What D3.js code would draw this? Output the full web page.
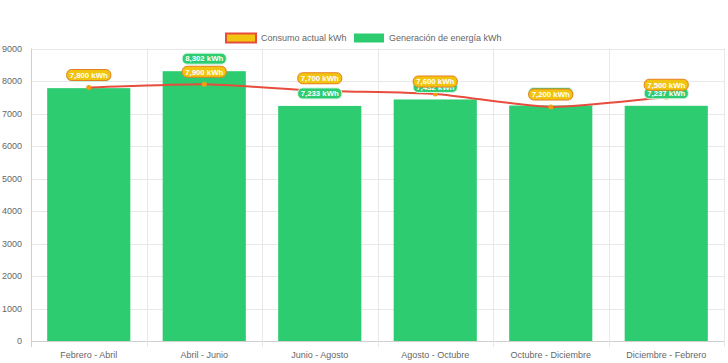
<!DOCTYPE html>
<html lang="es">
<head>
  <meta charset="UTF-8">
  <script src="https://d3js.org/d3.v7.min.js"></script>
  <title>Consumo vs Generación</title>
  <style>
    body { margin: 0; background: #fff; }
    svg { display: block; font-family: "Liberation Sans", Arial, sans-serif; }
  </style>
</head>
<body>
  <svg id="chart" width="728" height="363"></svg>
  <script>
    const categories = ['Febrero - Abril', 'Abril - Junio', 'Junio - Agosto', 'Agosto - Octubre', 'Octubre - Diciembre', 'Diciembre - Febrero'];
    const consumo = [7800, 7900, 7700, 7600, 7200, 7500];
    const generacion = [7780, 8302, 7233, 7432, 7245, 7237];
    const yTicks = [0, 1000, 2000, 3000, 4000, 5000, 6000, 7000, 8000, 9000];

    const plotLeft = 31, plotRight = 724, plotTop = 48.5, plotBottom = 341;
    const svg = d3.select('#chart');

    const x = d3.scaleBand().domain(categories).range([plotLeft, plotRight]).padding(0);
    const y = d3.scaleLinear().domain([0, 9000]).range([plotBottom, plotTop]);
    const fmt = d3.format(',');

    // grid
    svg.append('g').selectAll('line').data(yTicks).enter().append('line')
      .attr('x1', plotLeft).attr('x2', plotRight)
      .attr('y1', d => Math.round(y(d)) + 0.5).attr('y2', d => Math.round(y(d)) + 0.5)
      .attr('stroke', d => d === 0 ? '#cfcfcf' : '#e8e8e8');
    const vx = categories.map(c => x(c)).concat([plotRight]);
    svg.append('g').selectAll('line').data(vx).enter().append('line')
      .attr('x1', d => Math.round(d) + 0.5).attr('x2', d => Math.round(d) + 0.5)
      .attr('y1', plotTop).attr('y2', plotBottom + 6)
      .attr('stroke', (d, i) => i === 0 ? '#cfcfcf' : '#e8e8e8');

    // y tick labels
    svg.append('g').selectAll('text').data(yTicks).enter().append('text')
      .attr('x', 22).attr('y', d => y(d) + 3)
      .attr('text-anchor', 'end').attr('font-size', 9).attr('fill', '#666')
      .text(d => d);

    // x tick labels
    svg.append('g').selectAll('text').data(categories).enter().append('text')
      .attr('x', d => x(d) + x.bandwidth() / 2).attr('y', 358)
      .attr('text-anchor', 'middle').attr('font-size', 9).attr('fill', '#666')
      .text(d => d);

    // bars
    const bw = x.bandwidth() * 0.72;
    svg.append('g').selectAll('rect').data(generacion).enter().append('rect')
      .attr('x', (d, i) => x(categories[i]) + (x.bandwidth() - bw) / 2)
      .attr('y', d => y(d))
      .attr('width', bw)
      .attr('height', d => plotBottom - y(d))
      .attr('fill', '#2ecc71');

    // line (light spline through the points)
    const cx = i => x(categories[i]) + x.bandwidth() / 2;
    const pts = consumo.map((d, i) => [cx(i), y(d)]);
    function splinePath(p, t) {
      const path = d3.path();
      const cps = p.map((cur, i) => {
        const prev = p[i - 1] || cur, next = p[i + 1] || cur;
        const d01 = Math.hypot(cur[0] - prev[0], cur[1] - prev[1]);
        const d12 = Math.hypot(next[0] - cur[0], next[1] - cur[1]);
        const s01 = d01 / (d01 + d12 || 1), s12 = d12 / (d01 + d12 || 1);
        return {
          prev: [cur[0] - t * s01 * (next[0] - prev[0]), cur[1] - t * s01 * (next[1] - prev[1])],
          next: [cur[0] + t * s12 * (next[0] - prev[0]), cur[1] + t * s12 * (next[1] - prev[1])]
        };
      });
      path.moveTo(p[0][0], p[0][1]);
      for (let i = 1; i < p.length; i++) {
        path.bezierCurveTo(cps[i - 1].next[0], cps[i - 1].next[1], cps[i].prev[0], cps[i].prev[1], p[i][0], p[i][1]);
      }
      return path.toString();
    }
    svg.append('path')
      .attr('d', splinePath(pts, 0.2)).attr('fill', 'none')
      .attr('stroke', '#e74c3c').attr('stroke-width', 2);
    svg.append('g').selectAll('circle').data(consumo).enter().append('circle')
      .attr('cx', (d, i) => cx(i)).attr('cy', d => y(d)).attr('r', 2.5)
      .attr('fill', '#f39c12');

    // data labels
    function labels(data, fill, stroke) {
      const g = svg.append('g').selectAll('g').data(data).enter().append('g')
        .attr('transform', (d, i) => `translate(${cx(i)},${y(d) - 12.5})`);
      g.append('text')
        .attr('text-anchor', 'middle').attr('y', 2.8)
        .attr('font-size', 7.8).attr('font-weight', 'bold').attr('fill', '#fff')
        .text(d => fmt(d) + ' kWh');
      g.insert('rect', 'text')
        .attr('x', function () { return -this.parentNode.querySelector('text').getComputedTextLength() / 2 - 3; })
        .attr('width', function () { return this.parentNode.querySelector('text').getComputedTextLength() + 6; })
        .attr('y', -5.5).attr('height', 11).attr('rx', 5)
        .attr('fill', fill).attr('stroke', stroke).attr('stroke-width', 1);
    }
    labels(generacion, '#2ecc71', '#d8f5e4');
    labels(consumo, '#f1c40f', '#e67e22');

    // legend
    const lg = svg.append('g');
    lg.append('rect').attr('x', 226).attr('y', 33.5).attr('width', 30).attr('height', 9)
      .attr('fill', '#f1c40f').attr('stroke', '#e74c3c').attr('stroke-width', 2);
    lg.append('text').attr('x', 261).attr('y', 41).attr('font-size', 9).attr('fill', '#666')
      .text('Consumo actual kWh');
    lg.append('rect').attr('x', 354).attr('y', 33.5).attr('width', 30).attr('height', 9)
      .attr('fill', '#2ecc71');
    lg.append('text').attr('x', 389).attr('y', 41).attr('font-size', 9).attr('fill', '#666')
      .text('Generación de energía kWh');
  </script>
</body>
</html>
